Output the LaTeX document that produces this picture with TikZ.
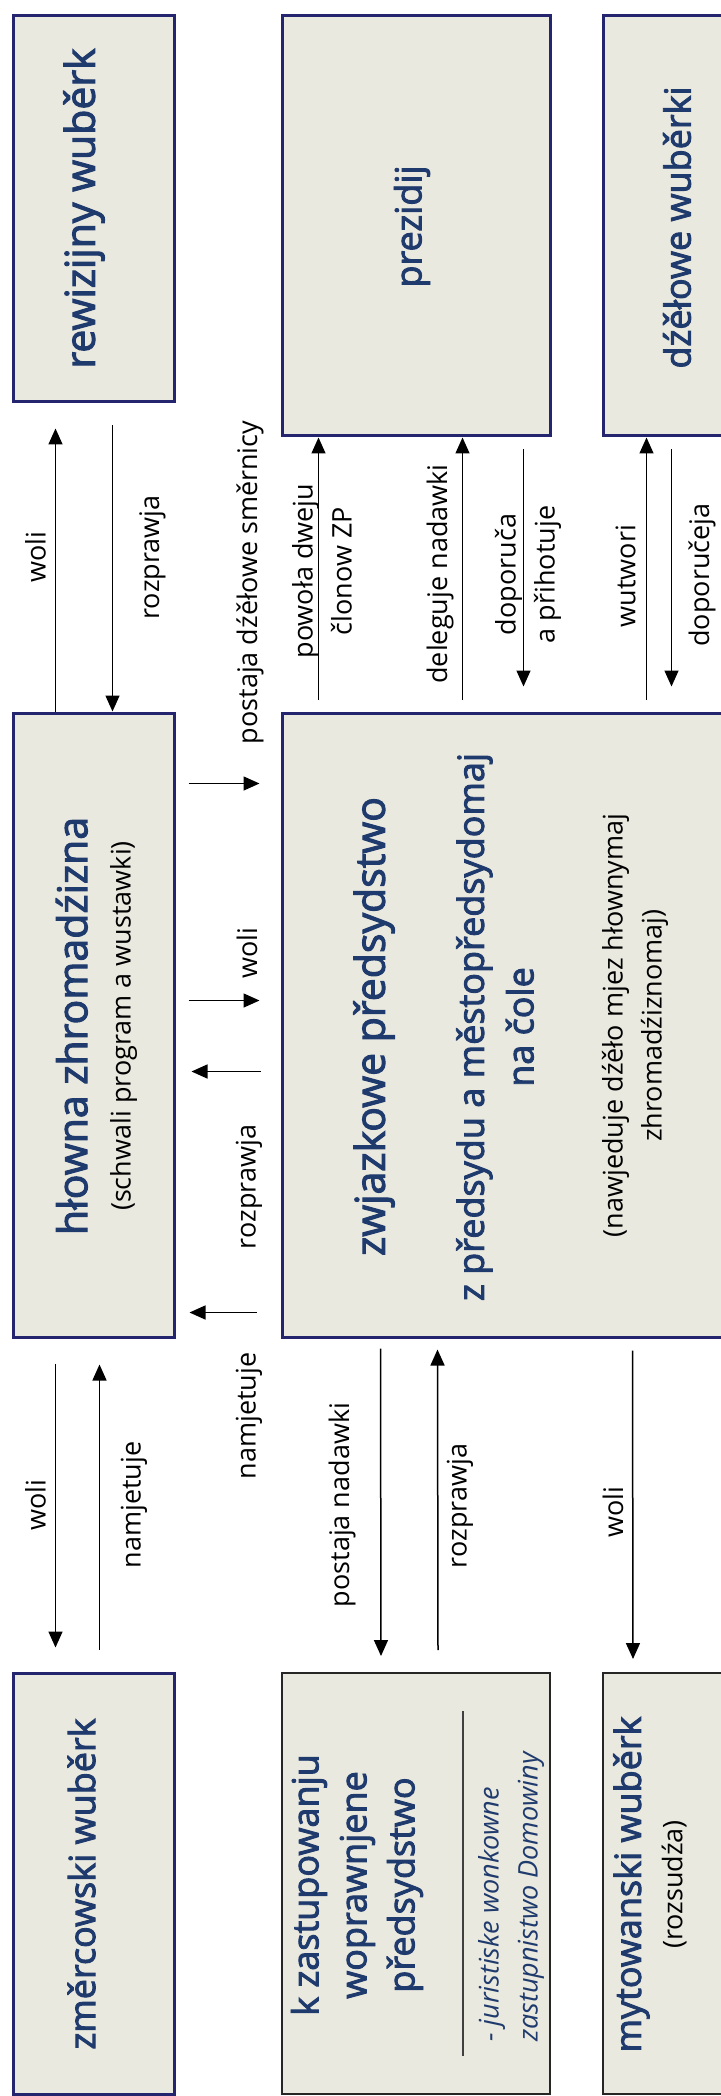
\documentclass[tikz,border=0pt]{standalone}
\usepackage{fontspec}
\setmainfont{Open Sans}
\newfontfamily\titlefont[FakeBold=2.5]{Open Sans}
\usepackage{tikz}
\usetikzlibrary{arrows.meta,calc}
\definecolor{boxfill}{HTML}{EAE9DF}
\definecolor{boxline}{HTML}{25256F}
\definecolor{titleblue}{HTML}{1F3A6D}
\tikzstyle{box}=[rectangle,draw=boxline,line width=1.5pt,fill=boxfill,inner sep=0pt]
\tikzstyle{plainbox}=[box,draw=black!85,line width=1pt]
\tikzstyle{bigtitle}=[rotate=90,text=titleblue,inner sep=0pt,align=center,font=\titlefont\fontsize{20.5}{25}\selectfont]
\tikzstyle{title}=[rotate=90,text=titleblue,inner sep=0pt,align=center,font=\titlefont\fontsize{18}{24}\selectfont]
\tikzstyle{lbl}=[rotate=90,inner sep=0pt,align=center,font=\fontsize{13.5}{18}\selectfont]
\tikzstyle{arr}=[-{Triangle[length=8pt,width=7pt]},line width=0.75pt]

\begin{document}
\begin{tikzpicture}[x=0.5pt,y=-0.5pt]
        \useasboundingbox (0,0) rectangle (720,2096);
        % boxes
        \node[box,minimum width=80.5pt,minimum height=193pt] (rew) at (93.5,209) {};
        \node[box,minimum width=134pt,minimum height=210pt] (prez) at (416,226) {};
        \node[box,minimum width=134pt,minimum height=210pt] (dzel) at (737,226) {};
        \node[box,minimum width=80.5pt,minimum height=312pt] (hlow) at (93.5,1025) {};
        \node[box,minimum width=294.5pt,minimum height=312pt] (zwj) at (576.5,1025) {};
        \node[box,minimum width=80.5pt,minimum height=210.5pt] (zmer) at (93.5,1883.5) {};
        \node[plainbox,minimum width=134pt,minimum height=210.5pt] (kzast) at (416,1883.5) {};
        \node[plainbox,minimum width=134pt,minimum height=210.5pt] (myt) at (737,1883.5) {};

        % texts in the boxes
        \node[bigtitle] (rew-t) at (84,208.5) {rewizijny wuběrk};
        \node[title] (prez-t) at (412,226.5) {prezidij};
        \node[title] (dzel-t) at (677,227.5) {dźěłowe wuběrki};
        \node[bigtitle,font=\titlefont\fontsize{20.5}{21.75}\selectfont] (hlow-t) at (96.5,1026)
            {hłowna zhromadźizna\\{\normalfont\color{black}\fontsize{13.5}{18}\selectfont (schwali program a wustawki)}};
        \node[bigtitle] (zwj-t) at (374,1026.5) {zwjazkowe předsydstwo};
        \node[title,font=\titlefont\fontsize{18}{24.75}\selectfont] (zwj-s) at (495,1027) {z předsydu a městopředsydomaj\\na čole};
        \node[lbl,font=\fontsize{13.5}{19.5}\selectfont] (zwj-n) at (635,1025.5) {(nawjeduje dźěło mjez hłownymaj\\zhromadźiznomaj)};
        \node[title] (zmer-t) at (81.5,1884) {změrcowski wuběrk};
        \node[title] (kzast-t) at (357,1885) {k zastupowanju\\woprawnjene\\předsydstwo};
        \draw[line width=0.75pt,black!75] ($(kzast.north west)+(182,39)$) -- ($(kzast.north west)+(182,384)$);
        \node[lbl,align=left,text=titleblue,font=\itshape\fontsize{13.5}{19.5}\selectfont] (kzast-n) at (511,1897) {- juristiske wonkowne\\zastupnistwo Domowiny};
        \node[title,font=\titlefont\fontsize{18}{20.75}\selectfont] (myt-t) at (650,1884.5)
            {mytowanski wuběrk\\{\normalfont\color{black}\fontsize{13.5}{18}\selectfont (rozsudźa)}};

        % top row
        \draw[arr] ($(hlow.north west)+(44,0)$) -- ($(rew.south west)+(44,25)$);
        \draw[arr] ($(rew.south west)+(101,22)$) -- ($(hlow.north west)+(101,0)$);
        \draw[arr] ($(zwj.north west)+(38,-12)$) -- ($(prez.south west)+(38,0)$);
        \draw[arr] ($(zwj.north west)+(182,-12)$) -- ($(prez.south west)+(182,0)$);
        \draw[arr] ($(prez.south west)+(243,12)$) -- ($(zwj.north west)+(243,-25)$);
        \draw[arr] ($(zwj.north west)+(366,-12)$) -- ($(dzel.south west)+(45,0)$);
        \draw[arr] ($(dzel.south west)+(70,12)$) -- ($(zwj.north west)+(391,-25)$);
        \node[lbl] (woli-1) at (35.5,557) {woli};
        \node[lbl] (rozp-1) at (152.5,557.5) {rozprawja};
        \node[lbl] (smer) at (250,582.5) {postaja dźěłowe směrnicy};
        \node[lbl,font=\fontsize{13.5}{19.5}\selectfont] (powo) at (322,571) {powoła dweju\\člonow ZP};
        \node[lbl] (dele) at (440,574) {deleguje nadawki};
        \node[lbl,font=\fontsize{13.5}{19.5}\selectfont] (dopo-1) at (528,574.5) {doporuča\\a přihotuje};
        \node[lbl] (wutw) at (625.5,576) {wutwori};
        \node[lbl] (dopo-2) at (702,575) {doporučeja};

        % middle row
        \draw[arr] ($(hlow.north east)+(13,72)$) -- ($(zwj.north west)+(-21,72)$);
        \draw[arr] ($(hlow.north east)+(13,289)$) -- ($(zwj.north west)+(-21,289)$);
        \draw[arr] ($(zwj.north west)+(-20,360)$) -- ($(hlow.north east)+(16,360)$);
        \draw[arr] ($(zwj.north west)+(-24,601)$) -- ($(hlow.north east)+(14,601)$);
        \node[lbl] (woli-2) at (247,953) {woli};
        \node[lbl] (rozp-2) at (249,1187) {rozprawja};
        \node[lbl] (namj-1) at (249,1416) {namjetuje};

        % bottom row
        \draw[arr] ($(hlow.south west)+(44,25)$) -- ($(zmer.north west)+(44,-24)$);
        \draw[arr] ($(zmer.north west)+(88,-22)$) -- ($(hlow.south west)+(88,26)$);
        \draw[arr] ($(zwj.south west)+(100,10)$) -- ($(kzast.north west)+(100,-16)$);
        \draw[arr] ($(kzast.north west)+(157,-22)$) -- ($(zwj.south west)+(157,11)$);
        \draw[arr] ($(zwj.south west)+(352,12)$) -- ($(myt.north west)+(31,-13)$);
        \node[lbl] (woli-3) at (35.5,1505) {woli};
        \node[lbl] (namj-2) at (134,1505) {namjetuje};
        \node[lbl] (nadaw) at (342,1505) {postaja nadawki};
        \node[lbl] (rozp-3) at (460,1506) {rozprawja};
        \node[lbl] (woli-4) at (613,1512) {woli};
\end{tikzpicture}
\end{document}
